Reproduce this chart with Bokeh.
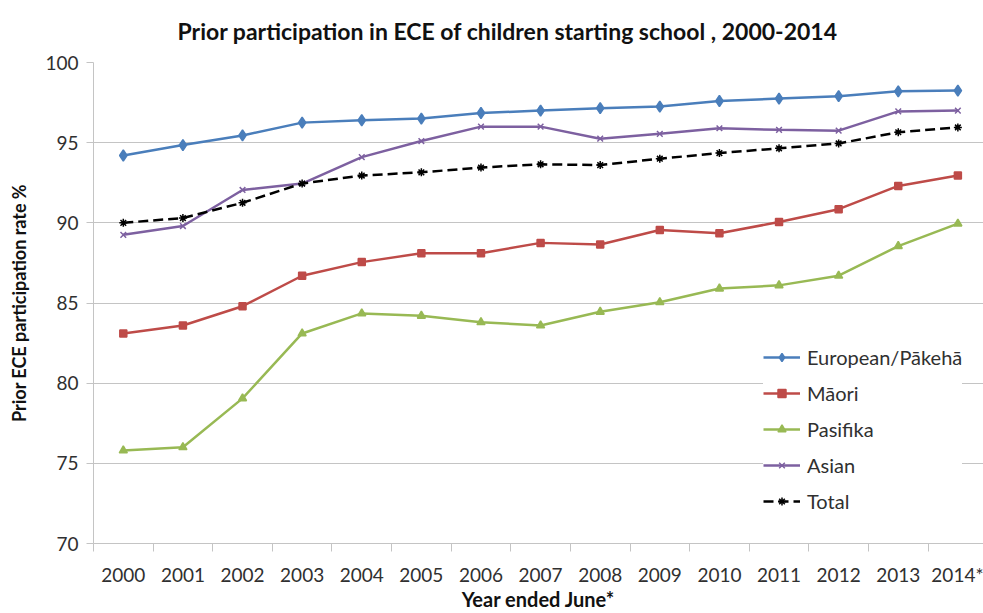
from bokeh.plotting import figure
from bokeh.models import FixedTicker, Range1d, Legend, LegendItem
from bokeh.embed import file_html
from bokeh.resources import INLINE

# Prior ECE participation rate (%) by ethnic group, year ended June
years = ["2000", "2001", "2002", "2003", "2004", "2005", "2006", "2007",
         "2008", "2009", "2010", "2011", "2012", "2013", "2014*"]
european = [94.2, 94.85, 95.45, 96.25, 96.4, 96.5, 96.85, 97.0,
            97.15, 97.25, 97.6, 97.75, 97.9, 98.2, 98.25]
maori = [83.1, 83.6, 84.8, 86.7, 87.55, 88.1, 88.1, 88.75,
         88.65, 89.55, 89.35, 90.05, 90.85, 92.3, 92.95]
pasifika = [75.8, 76.0, 79.05, 83.1, 84.35, 84.2, 83.8, 83.6,
            84.45, 85.05, 85.9, 86.1, 86.7, 88.55, 89.95]
asian = [89.25, 89.8, 92.05, 92.45, 94.1, 95.1, 96.0, 96.0,
         95.25, 95.55, 95.9, 95.8, 95.75, 96.95, 97.0]
total = [90.0, 90.3, 91.25, 92.45, 92.95, 93.15, 93.45, 93.65,
         93.6, 94.0, 94.35, 94.65, 94.95, 95.65, 95.95]
y_ticks = [70, 75, 80, 85, 90, 95, 100]
title = "Prior participation in ECE of children starting school , 2000-2014"

x = list(range(len(years)))

FONT = "Lato"
GRID = "#c4c4c4"
TEXT = "#303030"

p = figure(width=983, height=613, output_backend="svg", toolbar_location=None,
           x_range=Range1d(-0.5, 14.43), y_range=Range1d(70, 100),
           min_border_left=93, min_border_right=0, min_border_top=62,
           min_border_bottom=69)
p.outline_line_color = None
p.background_fill_color = "white"
p.border_fill_color = "white"

# title
p.title.text = title
p.title.align = "left"
p.title.offset = 84
p.title.vertical_align = "top"
p.title.text_font = FONT
p.title.text_font_style = "bold"
p.title.text_font_size = "23px"
p.title.text_color = "#111111"
p.title.standoff = 31

# x axis: labels on the points, tick marks between categories
xa = p.xaxis[0]
xa.ticker = FixedTicker(ticks=x, minor_ticks=[i - 0.5 for i in range(len(years) + 1)])
xa.major_label_overrides = {i: y for i, y in zip(x, years)}
xa.major_tick_out = 0
xa.major_tick_in = 0
xa.minor_tick_out = 8
xa.minor_tick_in = 0
xa.minor_tick_line_color = GRID
xa.axis_line_color = GRID
xa.major_label_standoff = 11
xa.major_label_text_font = FONT
xa.major_label_text_font_size = "19px"
xa.major_label_text_color = TEXT
xa.axis_label = "Year ended June*"
xa.axis_label_text_font = FONT
xa.axis_label_text_font_style = "bold"
xa.axis_label_text_font_size = "20px"
xa.axis_label_text_color = "#111111"
xa.axis_label_text_line_height = 0.8
xa.axis_label_standoff = -2

ya = p.yaxis[0]
ya.ticker = FixedTicker(ticks=y_ticks)
ya.minor_tick_line_color = None
ya.major_tick_out = 7
ya.major_tick_in = 0
ya.major_tick_line_color = GRID
ya.axis_line_color = GRID
ya.major_label_standoff = 8
ya.major_label_text_font = FONT
ya.major_label_text_font_size = "19px"
ya.major_label_text_color = TEXT
ya.axis_label = "Prior ECE participation rate %"
ya.axis_label_text_font = FONT
ya.axis_label_text_font_style = "bold"
ya.axis_label_text_font_size = "18px"
ya.axis_label_text_color = "#111111"
ya.axis_label_standoff = 12

p.xgrid.grid_line_color = None
p.ygrid.ticker = FixedTicker(ticks=y_ticks)
p.ygrid.grid_line_color = GRID
p.ygrid.grid_line_width = 1

series = [
    ("European/Pākehā", european, "#4a7ebb", "diamond", 11, None),
    ("Māori", maori, "#be4b48", "square", 7, None),
    ("Pasifika", pasifika, "#98b954", "triangle", 8, None),
    ("Asian", asian, "#7d60a0", "x", 8, None),
    ("Total", total, "#000000", "asterisk", 8, "10 5"),
]

items = []
for name, vals, color, marker, size, dash in series:
    line = p.line(x, vals, line_color=color, line_width=2.5,
                  line_dash=dash if dash else "solid")
    pts = p.scatter(x, vals, marker=marker, size=size, fill_color=color,
                    line_color=color, line_width=1.5)
    items.append(LegendItem(label=name, renderers=[line, pts]))

legend = Legend(items=items, location=(670, 30), border_line_color=None,
                background_fill_color="white", background_fill_alpha=1.0,
                glyph_width=37, glyph_height=20, spacing=12, padding=7,
                label_standoff=7, margin=0,
                label_text_font=FONT, label_text_font_size="20px",
                label_text_color=TEXT)
p.add_layout(legend)

open("out.html", "w").write(file_html(p, INLINE))
